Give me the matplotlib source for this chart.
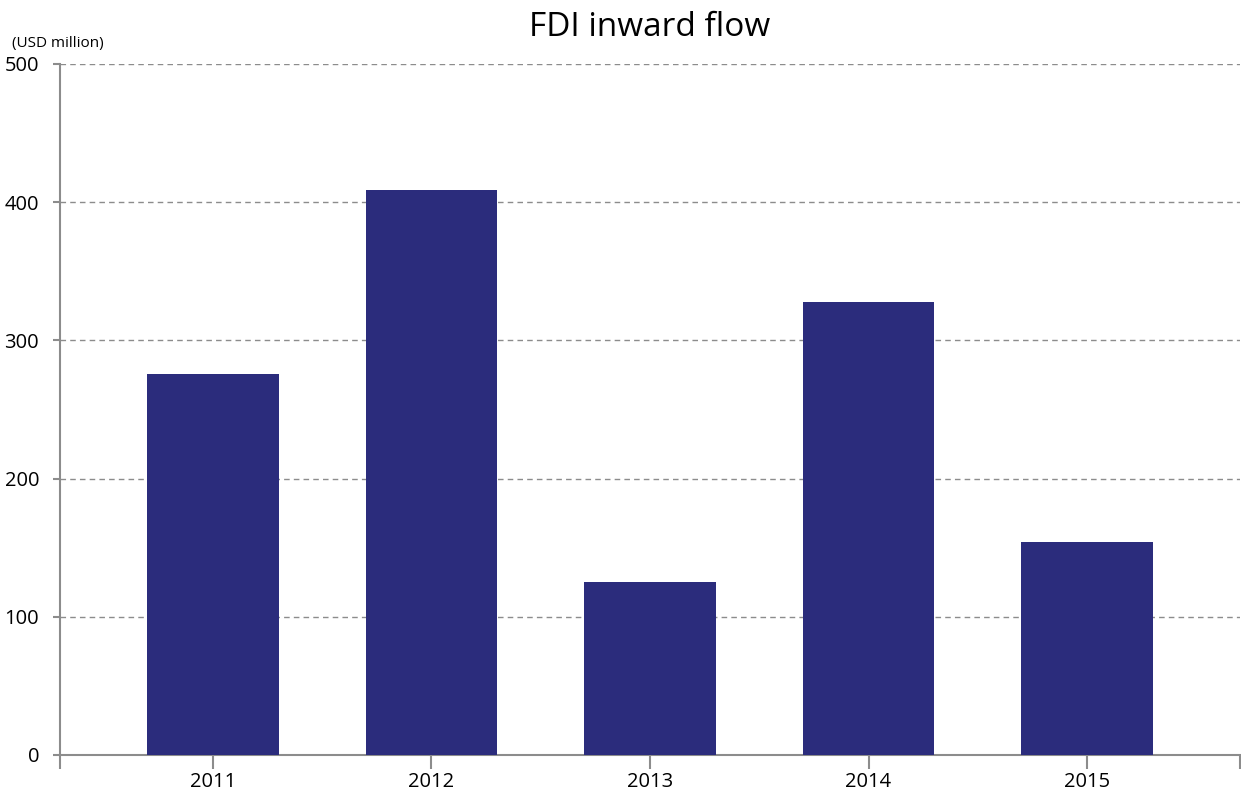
import numpy as np
from matplotlib import pyplot as plt

# 数据
years = ["2011", "2012", "2013", "2014", "2015"]
fdi_inflow = [276, 409, 125, 328, 154]
yticks = [0, 100, 200, 300, 400, 500]

plt.rcParams["font.family"] = ["Open Sans", "DejaVu Sans"]

W, H = 1241, 791
fig = plt.figure(figsize=(W / 100, H / 100), dpi=100)
ax = fig.add_axes([60 / W, (H - 755) / H, (1240 - 60) / W, (755 - 64) / H])

x = np.arange(len(years))
ax.bar(x, fdi_inflow, width=0.6, color="#2b2c7c", zorder=3)

ax.set_xlim(-0.7, len(years) - 0.3)
ax.set_ylim(0, 500)
ax.set_yticks(yticks)
ax.set_yticklabels([str(v) for v in yticks], fontsize=14.5)

# x轴刻度: 类别中心 + 两端
ax.set_xticks(list(x) + [-0.7, len(years) - 0.3])
ax.set_xticklabels(years + ["", ""], fontsize=14.5)

axis_col = "#8c8c8c"
for s in ["top", "right"]:
    ax.spines[s].set_visible(False)
for s in ["left", "bottom"]:
    ax.spines[s].set_color(axis_col)
    ax.spines[s].set_linewidth(1.5)

ax.tick_params(axis="y", direction="out", length=5, width=1.5, color=axis_col, pad=10)
ax.tick_params(axis="x", direction="out", length=10, width=1.5, color=axis_col, pad=2)

for v in yticks[1:]:
    ax.axhline(v, color="#8c8c8c", linestyle=(0, (4, 3)), linewidth=1, zorder=1)

fig.text(650 / W, 1 - 27 / H, "FDI inward flow", fontsize=24, ha="center", va="center")
fig.text(12 / W, 1 - 44 / H, "(USD million)", fontsize=11, ha="left", va="center")

fig.savefig("out.png", dpi=100)
